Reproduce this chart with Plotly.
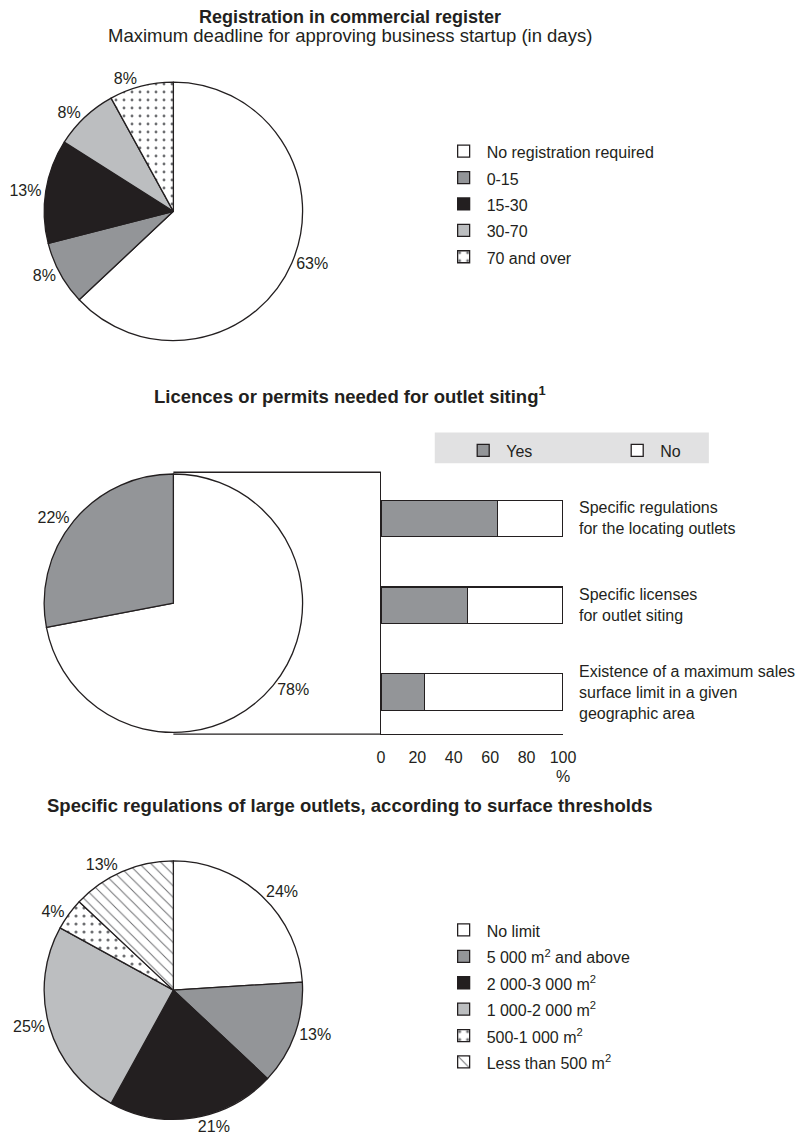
import plotly.graph_objects as go

# ---------------- data ----------------
reg_labels = ["No registration required", "0-15", "15-30", "30-70", "70 and over"]
reg_values = [63, 8, 13, 8, 8]

lic_labels = ["No", "Yes"]
lic_shares_drawn = [72, 28]          # slice sizes as drawn in the picture
lic_text = ["78%", "22%"]            # printed labels

bar_categories = [
    "Specific regulations<br>for the locating outlets",
    "Specific licenses<br>for outlet siting",
    "Existence of a maximum sales<br>surface limit in a given<br>geographic area",
]
bar_yes = [64, 47.5, 24]
bar_no = [36, 52.5, 76]

surf_labels = ["No limit", "5 000 m<sup>2</sup> and above", "2 000-3 000 m<sup>2</sup>",
               "1 000-2 000 m<sup>2</sup>", "500-1 000 m<sup>2</sup>", "Less than 500 m<sup>2</sup>"]
surf_values = [24, 13, 21, 25, 4, 13]

x_tick_vals = [0, 20, 40, 60, 80, 100]
x_inner_ticks = [20, 40, 60, 80]

# ---------------- layout helpers ----------------
W, H = 809, 1143
FONT = "Liberation Sans, Arial, Helvetica, sans-serif"
INK = "#231f20"
GREY = "#939598"
LGREY = "#bcbec0"
R = 132
PCX = 173
CY1, CY2, CY3 = 213, 608, 998


def fx(px):
    return px / W


def fy(py):
    return 1 - py / H


def pie_domain(cy):
    return dict(x=[fx(PCX - R), fx(PCX + R)], y=[fy(cy + R), fy(cy - R)])


def leg_label(s):
    return '<span style="font-size:16px">%s</span>' % s


line = dict(color=INK, width=1.3)
dots = dict(fgcolor="#6d6e71", size=8, solidity=0.1)

fig = go.Figure()

# Pie 1
fig.add_trace(go.Pie(
    labels=[leg_label(s) for s in reg_labels], values=reg_values,
    sort=False, direction="clockwise", rotation=0,
    domain=pie_domain(CY1),
    marker=dict(colors=["white", GREY, INK, LGREY, "white"], line=line,
                pattern=dict(shape=["", "", "", "", "."], **dots)),
    texttemplate="%{value}%", textposition="outside",
    outsidetextfont=dict(size=16, color=INK, family=FONT),
    legend="legend", hoverinfo="label+percent",
))

# Pie 2
fig.add_trace(go.Pie(
    labels=lic_labels, values=lic_shares_drawn, text=lic_text,
    sort=False, direction="clockwise", rotation=0,
    domain=pie_domain(CY2),
    marker=dict(colors=["white", GREY], line=line),
    textinfo="text", textposition="outside",
    outsidetextfont=dict(size=16, color=INK, family=FONT),
    showlegend=False,
))

# Pie 3
fig.add_trace(go.Pie(
    labels=[leg_label(s) for s in surf_labels], values=surf_values,
    sort=False, direction="clockwise", rotation=0,
    domain=pie_domain(CY3),
    marker=dict(colors=["white", GREY, INK, LGREY, "white", "white"], line=line,
                pattern=dict(shape=["", "", "", "", ".", "\\"], fgcolor="#6d6e71",
                             size=8, solidity=0.12)),
    texttemplate="%{value}%", textposition="outside",
    outsidetextfont=dict(size=16, color=INK, family=FONT),
    legend="legend3",
))

# Bars
fig.add_trace(go.Bar(y=bar_categories, x=bar_yes, orientation="h", name="Yes",
                     marker=dict(color=GREY, line=line), width=0.42, legend="legend2"))
fig.add_trace(go.Bar(y=bar_categories, x=bar_no, orientation="h", name="No",
                     marker=dict(color="white", line=line), width=0.42, legend="legend2"))

AX_L, AX_R = 385, 571
unit = 87.5
top_off = (522.5 - (CY2 - R)) / unit
y_range = [-top_off + 2 * R / unit, -top_off]

fig.update_layout(
    width=W, height=H, autosize=False,
    margin=dict(l=0, r=0, t=0, b=0),
    paper_bgcolor="white", plot_bgcolor="rgba(0,0,0,0)",
    font=dict(family=FONT, color=INK, size=16),
    barmode="stack",
    xaxis=dict(domain=[fx(AX_L), fx(AX_R)], range=[0, 100], showline=True,
               linecolor=INK, linewidth=1.3, tickvals=x_tick_vals, ticks="",
               showgrid=False, zeroline=False, tickfont=dict(size=16),
               ticklabelstandoff=8, fixedrange=True),
    xaxis2=dict(overlaying="x", anchor="y", range=[0, 100], tickvals=x_inner_ticks,
                ticks="inside", ticklen=12, tickwidth=1.3, tickcolor=INK,
                showticklabels=False, showline=False, showgrid=False, zeroline=False),
    yaxis=dict(domain=[fy(CY2 + R), fy(CY2 - R)], type="category",
               categoryorder="array", categoryarray=bar_categories,
               range=y_range, showline=True, linecolor=INK, linewidth=1.3,
               ticks="", showticklabels=False, showgrid=False, zeroline=False),
    legend=dict(x=fx(446), y=fy(134), xanchor="left", yanchor="top",
                font=dict(size=18), itemwidth=36, bgcolor="rgba(0,0,0,0)",
                traceorder="normal"),
    legend3=dict(x=fx(446), y=fy(919), xanchor="left", yanchor="top",
                 font=dict(size=18), itemwidth=36, bgcolor="rgba(0,0,0,0)",
                 traceorder="normal"),
    legend2=dict(x=fx(466), y=fy(437), xanchor="left", yanchor="top",
                 orientation="h", font=dict(size=16), itemwidth=36,
                 entrywidth=103, bgcolor="rgba(0,0,0,0)", traceorder="normal"),
    showlegend=True,
)

# legend background box for Yes/No, and connector lines pie -> bar panel
fig.add_shape(type="rect", xref="paper", yref="paper", x0=fx(440), x1=fx(720),
              y0=fy(467), y1=fy(436), fillcolor="#e1e1e2", line=dict(width=0), layer="below")
fig.add_shape(type="line", xref="paper", yref="paper", x0=fx(PCX), x1=fx(AX_L),
              y0=fy(CY2 - R), y1=fy(CY2 - R), line=line)
fig.add_shape(type="line", xref="paper", yref="paper", x0=fx(PCX), x1=fx(AX_L),
              y0=fy(CY2 + R), y1=fy(CY2 + R), line=line)

# titles
TX = fx(353)
titles = [
    ("<b>Registration in commercial register</b>", 17, 18),
    ("Maximum deadline for approving business startup (in days)", 36, 18.5),
    ("<b>Licences or permits needed for outlet siting<sup>1</sup></b>", 398, 18.5),
    ("<b>Specific regulations of large outlets, according to surface thresholds</b>", 812, 18.5),
]
for txt, ypx, size in titles:
    fig.add_annotation(text=txt, x=TX, y=fy(ypx), xref="paper", yref="paper",
                       xanchor="center", yanchor="middle", showarrow=False,
                       font=dict(size=size))

# bar category labels
for cat in bar_categories:
    fig.add_annotation(text=cat, x=fx(585), y=cat, xref="paper", yref="y",
                       xanchor="left", yanchor="middle", align="left",
                       showarrow=False, font=dict(size=16))

# axis unit
fig.add_annotation(text="%", x=100, y=fy(772), xref="x", yref="paper",
                   xanchor="center", yanchor="top", showarrow=False,
                   font=dict(size=16))

fig.write_html("out.html")
